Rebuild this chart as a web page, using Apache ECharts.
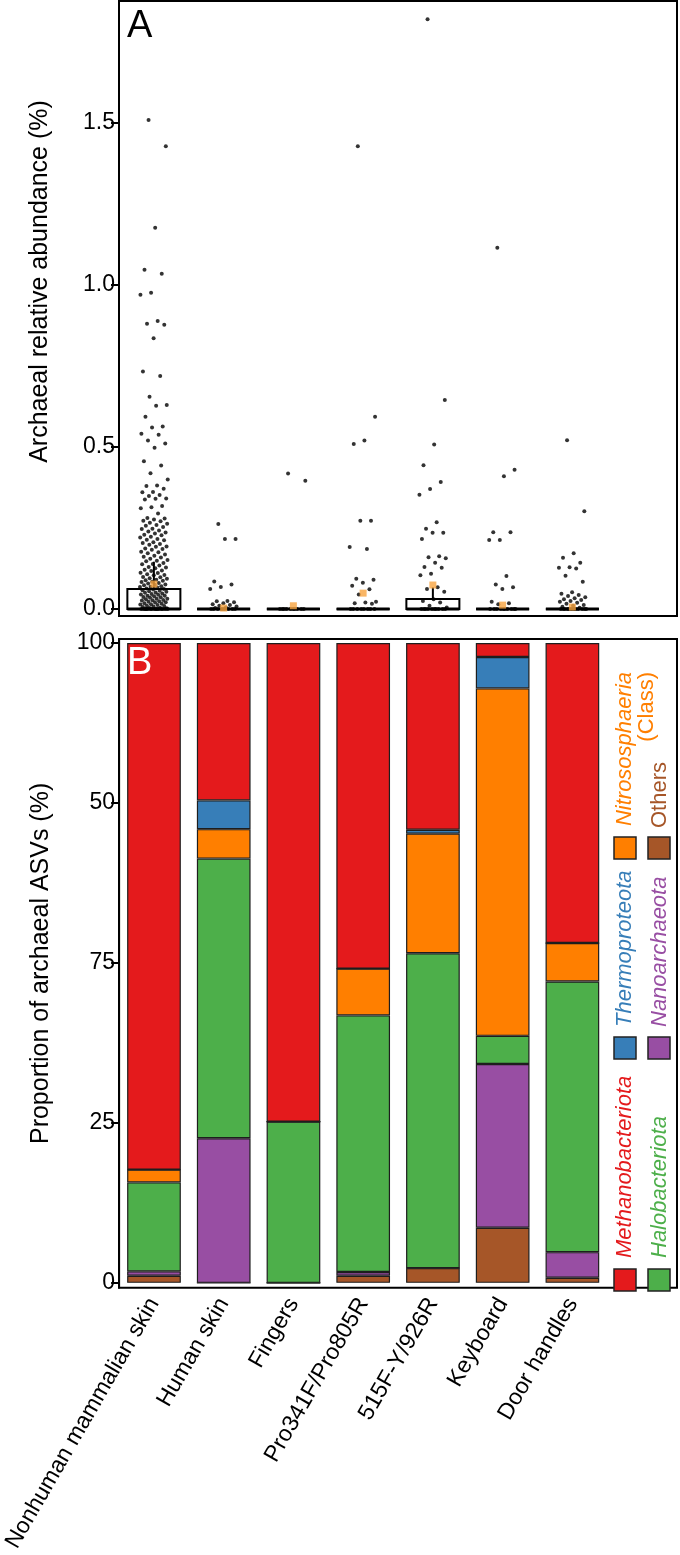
<!DOCTYPE html>
<html><head><meta charset="utf-8">
<script src="https://cdn.jsdelivr.net/npm/echarts@6/dist/echarts.min.js"></script>
<style>html,body{margin:0;padding:0;background:#fff}#c{width:680px;height:1555px}</style>
</head><body><div id="c"></div>
<script>
// ---------- shared ----------
const categories = ['Nonhuman mammalian skin','Human skin','Fingers','Pro341F/Pro805R','515F-Y/926R','Keyboard','Door handles'];

// ---------- Panel A: archaeal relative abundance (%) per sample ----------
const abundNonhuman = [1.509,1.428,1.177,1.047,1.035,0.976,0.970,0.889,0.880,0.877,0.836,0.733,0.719,0.655,0.630,0.627,0.593,0.563,0.560,0.541,0.538,0.520,0.511,0.498,0.456,0.443,0.419,0.400,0.381,0.380,0.371,0.361,0.360,0.352,0.349,0.341,0.340,0.338,0.318,0.314,0.311,0.295,0.281,0.279,
 0.276,0.272,0.271,0.266,0.263,0.259,0.257,0.253,0.248,0.247,0.242,0.239,0.236,0.233,0.229,0.228,0.223,0.221,0.216,0.214,0.212,0.206,0.204,0.201,0.198,0.193,0.192,0.187,0.185,0.183,0.177,0.175,0.172,0.168,0.164,0.161,0.159,0.155,0.151,0.149,0.147,0.142,0.139,0.138,0.134,0.130,0.128,0.126,0.121,0.119,0.117,0.112,0.111,0.107,0.105,0.104,0.099,0.098,0.095,0.093,0.090,0.089,0.087,0.084,0.083,0.080,0.079,0.076,0.075,0.073,0.070,0.069,0.068,0.066,0.063,0.062,0.060,0.058,0.056,0.055,0.053,0.051,0.050,0.048,0.046,0.045,0.044,0.041,0.041,0.039,0.037,0.036,0.035,0.032,0.032,0.030,0.028,0.027,0.026,0.024,0.022,0.021,0.020,0.018,0.016,0.015,0.014,0.012,0.010,0.009,0.008,0.006,0.004,0.003,0.002,
 0,0,0,0,0,0,0,0,0,0,0,0,0,0,0];
const abundHuman = [0.262,0.216,0.216,0.085,0.076,0.068,0.062,0.025,0.024,0.021,0.018,0.015,0.012,0.010,0.008,0.005,0.003,0,0,0,0,0,0,0,0];
const abundFingers = [0.418,0.396,0,0,0,0,0,0,0,0,0,0];
const abundPro341F = [1.428,0.593,0.520,0.509,0.272,0.272,0.191,0.185,0.093,0.090,0.081,0.072,0.061,0.045,0.022,0.020,0.018,0.016,0,0,0,0,0,0,0,0];
const abund515F = [1.820,0.645,0.508,0.444,0.392,0.370,0.353,0.268,0.248,0.235,0.235,0.216,0.163,0.160,0.157,0.143,0.130,0.127,0.109,0.104,0.067,0.062,0.053,0.030,0.025,0.020,0.010,0.005,0,0,0,0,0,0,0,0,0,0];
const abundKeyboard = [1.115,0.430,0.410,0.237,0.237,0.213,0.213,0.102,0.076,0.067,0.062,0.022,0.018,0.015,0,0,0,0,0,0,0,0,0,0];
const abundDoor = [0.521,0.302,0.172,0.158,0.143,0.129,0.127,0.125,0.103,0.084,0.052,0.047,0.043,0.040,0.036,0.033,0.030,0.028,0.025,0.022,0.019,0.016,0.012,0.010,0.007,0.004,0,0,0,0,0,0,0,0,0,0,0,0];
const abundByCategory = [abundNonhuman, abundHuman, abundFingers, abundPro341F, abund515F, abundKeyboard, abundDoor];

const boxLow    = [0,0,0,0,0,0,0];
const boxQ1     = [0,0,0,0,0,0,0];
const boxMedian = [0,0,0,0,0,0,0];
const boxQ3     = [0.062,0,0,0,0.031,0,0];
const boxHigh   = [0.146,0,0,0,0.067,0,0];
const meanAbund = [0.077,0.003,0.010,0.049,0.074,0.012,0.006];

const abundTicks = [0,0.5,1.0,1.5];
const abundTickLabels = ['0.0','0.5','1.0','1.5'];

// ---------- Panel B: proportion of archaeal ASVs (%) ----------
const others            = [1.1, 0,    0,    1.1,  2.3,  8.6,  0.8];
const nanoarchaeota     = [0.7, 22.6, 0,    0.6,  0,    25.6, 4.0];
const halobacteriota    = [13.9,43.7, 25.2, 40.1, 49.2, 4.4,  42.3];
const nitrososphaeria   = [2.0, 4.6,  0,    7.3,  18.7, 54.3, 6.0];
const thermoproteota    = [0,   4.5,  0,    0,    0.6,  4.9,  0];
const methanobacteriota = [82.3,24.6, 74.8, 50.9, 29.2, 2.2,  46.9];

const propTicks = [0,25,50,75,100];
const propTickLabels = ['0','25','75','50','100'];

const taxaNames = ['Others','Nanoarchaeota','Halobacteriota','Nitrososphaeria','Thermoproteota','Methanobacteriota'];
const taxaValues = [others, nanoarchaeota, halobacteriota, nitrososphaeria, thermoproteota, methanobacteriota];
const taxaColors = ['#A65628','#984EA3','#4DAF4A','#FF7F00','#377EB8','#E41A1C'];

// ---------- build ----------
const FONT = 'Liberation Sans, Arial, Helvetica, sans-serif';
const chart = echarts.init(document.getElementById('c'), null, {renderer:'canvas'});

// deterministic horizontal jitter (presentation only)
function jitter(k){ return (((k * 0.6180339887 + 0.31) % 1) - 0.5) * 0.4; }

const pointData = [];
abundByCategory.forEach((vals, i) => {
  vals.forEach((v, k) => pointData.push([i + jitter(k), v]));
});
const boxData = categories.map((c, i) => [i, boxLow[i], boxQ1[i], boxMedian[i], boxQ3[i], boxHigh[i]]);
const meanData = meanAbund.map((m, i) => [i, m]);

const catB = categories.concat(['']);

const series = [
  {
    type:'custom', xAxisIndex:0, yAxisIndex:0, z:2, silent:true,
    encode:{x:0, y:[1,2,3,4,5]},
    data: boxData,
    renderItem(params, api){
      const i = api.value(0);
      const lo = api.value(1), q1 = api.value(2), med = api.value(3), q3 = api.value(4), hi = api.value(5);
      const half = api.size([0.76, 0])[0] / 2;
      const x = api.coord([i, q1])[0];
      const yq1 = api.coord([i, q1])[1], yq3 = api.coord([i, q3])[1];
      const ymed = api.coord([i, med])[1], ylo = api.coord([i, lo])[1], yhi = api.coord([i, hi])[1];
      const ch = [];
      if (hi > q3) ch.push({type:'line', shape:{x1:x, y1:yq3, x2:x, y2:yhi}, style:{stroke:'#000', lineWidth:2}});
      if (lo < q1) ch.push({type:'line', shape:{x1:x, y1:yq1, x2:x, y2:ylo}, style:{stroke:'#000', lineWidth:2}});
      ch.push({type:'rect', shape:{x:x-half, y:yq3, width:2*half, height:Math.max(yq1-yq3, 0)}, style:{fill:'none', stroke:'#000', lineWidth:2}});
      ch.push({type:'line', shape:{x1:x-half, y1:ymed, x2:x+half, y2:ymed}, style:{stroke:'#000', lineWidth:3}});
      return {type:'group', children:ch};
    }
  },
  {
    type:'scatter', xAxisIndex:0, yAxisIndex:0, z:3, silent:true,
    symbol:'circle', symbolSize:4, itemStyle:{color:'#000'},
    data: pointData
  },
  {
    type:'scatter', xAxisIndex:0, yAxisIndex:0, z:4, silent:true,
    symbol:'rect', symbolSize:7, itemStyle:{color:'#F7A440'},
    data: meanData
  }
];
taxaNames.forEach((name, s) => {
  series.push({
    type:'bar', name, xAxisIndex:1, yAxisIndex:1, stack:'asv', barWidth:'77%',
    itemStyle:{color:taxaColors[s], borderColor:'#1e1e1e', borderWidth:1.2},
    data: taxaValues[s]
  });
});

// legend (rotated labels, drawn as graphics in the spare 8th slot)
const legendEntries = [
  {col:0, row:0, color:'#E41A1C', lines:['Methanobacteriota'], italic:true},
  {col:1, row:0, color:'#4DAF4A', lines:['Halobacteriota'], italic:true},
  {col:0, row:1, color:'#377EB8', lines:['Thermoproteota'], italic:true},
  {col:1, row:1, color:'#984EA3', lines:['Nanoarchaeota'], italic:true},
  {col:0, row:2, color:'#FF7F00', lines:['Nitrososphaeria','(Class)'], italic:true},
  {col:1, row:2, color:'#A65628', lines:['Others'], italic:false}
];
const sqX = [614, 648], sqY = [1269, 1037, 837], txX = [625, 660], txY = [1258, 1027, 828];
const graphics = [
  {type:'text', x:127, y:8, style:{text:'A', fill:'#000', font:'38px ' + FONT, textAlign:'left', textVerticalAlign:'top'}, z:10},
  {type:'text', x:127, y:645, style:{text:'B', fill:'#fff', font:'38px ' + FONT, textAlign:'left', textVerticalAlign:'top'}, z:10}
];
legendEntries.forEach(e => {
  graphics.push({type:'rect', shape:{x:sqX[e.col], y:sqY[e.row], width:22, height:22},
    style:{fill:e.color, stroke:'#222', lineWidth:1.5}, z:10});
  if (e.lines.length === 1) {
    graphics.push({type:'text', x:txX[e.col], y:txY[e.row], rotation:Math.PI/2,
      style:{text:e.lines[0], fill:e.color, font:(e.italic?'italic ':'') + '22px ' + FONT,
        textAlign:'left', textVerticalAlign:'middle'}, z:10});
  } else {
    graphics.push({type:'text', x:txX[e.col], y:672, rotation:Math.PI/2,
      style:{text:e.lines[0], fill:e.color, font:'italic 22px ' + FONT, textAlign:'right', textVerticalAlign:'middle'}, z:10});
    graphics.push({type:'text', x:txX[e.col] + 22, y:672, rotation:Math.PI/2,
      style:{text:e.lines[1], fill:e.color, font:'22px ' + FONT, textAlign:'right', textVerticalAlign:'middle'}, z:10});
  }
});

const option = {
  animation:false,
  backgroundColor:'#fff',
  textStyle:{fontFamily:FONT},
  grid:[
    {left:119, right:3, top:1, height:615, show:true, borderColor:'#000', borderWidth:2, backgroundColor:'transparent'},
    {left:119, right:3, top:639, height:659, show:true, borderColor:'#000', borderWidth:2, backgroundColor:'transparent'}
  ],
  xAxis:[
    {type:'value', gridIndex:0, min:-0.5, max:7.5, show:false},
    {type:'category', gridIndex:1, data:catB, boundaryGap:true,
      axisLine:{show:false}, axisTick:{show:false},
      axisLabel:{interval:0, rotate:60, margin:12, fontSize:23, color:'#000', fontFamily:FONT}}
  ],
  yAxis:[
    {type:'value', gridIndex:0, min:-0.0216, max:1.8765,
      name:'Archaeal relative abundance (%)', nameLocation:'middle', nameGap:66,
      nameTextStyle:{fontSize:25, color:'#000', fontFamily:FONT, padding:[0,0,0,54]},
      splitLine:{show:false},
      axisLine:{show:true, onZero:false, lineStyle:{color:'#000', width:2}},
      axisTick:{show:true, length:8, lineStyle:{color:'#000', width:2}, customValues:abundTicks},
      axisLabel:{fontSize:23, color:'#000', margin:4, fontFamily:FONT, customValues:abundTicks,
        formatter:v => { const k = abundTicks.findIndex(t => Math.abs(t - v) < 1e-9); return k >= 0 ? abundTickLabels[k] : ''; }}
    },
    {type:'value', gridIndex:1, min:-0.77, max:100.62,
      name:'Proportion of archaeal ASVs (%)', nameLocation:'middle', nameGap:66,
      nameTextStyle:{fontSize:25, color:'#000', fontFamily:FONT},
      splitLine:{show:false},
      axisLine:{show:true, onZero:false, lineStyle:{color:'#000', width:2}},
      axisTick:{show:true, length:8, lineStyle:{color:'#000', width:2}, customValues:propTicks},
      axisLabel:{fontSize:23, color:'#000', margin:4, fontFamily:FONT, customValues:propTicks,
        formatter:v => { const k = propTicks.findIndex(t => Math.abs(t - v) < 1e-9); return k >= 0 ? propTickLabels[k] : ''; }}
    }
  ],
  series,
  graphic: graphics
};
chart.setOption(option);
</script>
</body></html>
